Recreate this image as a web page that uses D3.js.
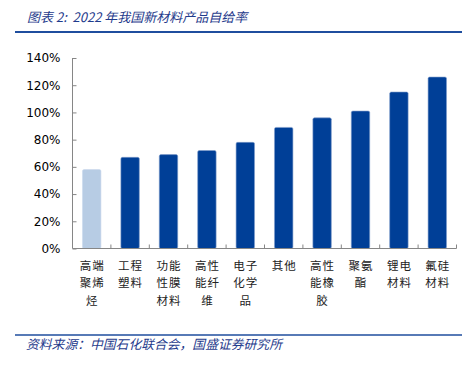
<!DOCTYPE html>
<html><head><meta charset="utf-8">
<script src="https://cdn.jsdelivr.net/npm/d3@7"></script>
<style>
html,body{margin:0;padding:0;background:#fff;}
svg{display:block;}
</style></head>
<body>
<svg id="c" width="471" height="366"></svg>
<script>
const categories = [["高端","聚烯","烃"],["工程","塑料"],["功能","性膜","材料"],["高性","能纤","维"],["电子","化学","品"],["其他"],["高性","能橡","胶"],["聚氨","酯"],["锂电","材料"],["氟硅","材料"]];
const values = [0.58, 0.67, 0.69, 0.72, 0.78, 0.89, 0.96, 1.01, 1.15, 1.26];
const highlight = [true, false, false, false, false, false, false, false, false, false];
const yTicks = [0, 0.2, 0.4, 0.6, 0.8, 1.0, 1.2, 1.4];
const titleText = "图表 2:  2022 年我国新材料产品自给率";
const sourceText = "资料来源：中国石化联合会，国盛证券研究所";

const svg = d3.select("#c");
const x0 = 72.5, x1 = 456.5, yTop = 58, yBot = 248.5;
const x = d3.scaleBand().domain(d3.range(values.length)).range([x0, x1]).paddingInner(0.52).paddingOuter(0.26);
const y = d3.scaleLinear().domain([0, 1.4]).range([yBot, yTop]);

// title
svg.append("text").attr("x", 27).attr("y", 22)
  .attr("font-family", "'Noto Sans CJK SC', sans-serif").attr("font-size", 13)
  .attr("font-style", "italic").attr("fill", "#1F3B8C").style("white-space","pre").text(titleText);
svg.append("line").attr("x1", 15).attr("x2", 462).attr("y1", 32).attr("y2", 32)
  .attr("stroke", "#1F4E9E").attr("stroke-width", 2);

// bars
svg.append("g").selectAll("rect").data(values).join("rect")
  .attr("x", (d,i) => x(i)).attr("width", x.bandwidth())
  .attr("y", d => y(d)).attr("height", d => yBot - y(d))
  .attr("rx", 1.5)
  .attr("fill", (d,i) => highlight[i] ? "#B7CCE4" : "#003F97")
  .attr("stroke", (d,i) => highlight[i] ? "#C9D8EC" : "#7F9CCB").attr("stroke-width", 0.6);

// y axis
const yAxis = d3.axisLeft(y).tickValues(yTicks).tickFormat(d => Math.round(d*100) + "%").tickSize(-4).tickPadding(12);
const gy = svg.append("g").attr("transform", `translate(${x0},0)`).call(yAxis);
gy.select(".domain").attr("stroke", "#868686").attr("d", `M-0,${yTop}V${yBot}`);
gy.selectAll(".tick line").attr("stroke", "#868686");
gy.selectAll(".tick text").attr("font-family", "'DejaVu Sans', sans-serif").attr("font-size", 12).attr("fill", "#000");

// x axis
const step = x.step();
const bounds = d3.range(values.length + 1).map(i => x0 + i * step);
svg.append("line").attr("x1", x0).attr("x2", x1).attr("y1", yBot).attr("y2", yBot).attr("stroke", "#868686");
svg.append("g").selectAll("line").data(bounds.slice(1)).join("line")
  .attr("x1", d => d).attr("x2", d => d).attr("y1", yBot).attr("y2", yBot - 4).attr("stroke", "#868686");

// category labels
const lab = svg.append("g").selectAll("text").data(categories).join("text")
  .attr("font-family", "'Noto Sans CJK SC', sans-serif").attr("font-size", 11.5)
  .attr("fill", "#222").attr("text-anchor", "middle").attr("letter-spacing", 1);
lab.each(function(lines, i) {
  const t = d3.select(this);
  lines.forEach((s, k) => {
    t.append("tspan").attr("x", x(i) + x.bandwidth()/2 + 0.5).attr("y", 270 + k * 17.3).text(s);
  });
});

// source
svg.append("line").attr("x1", 15).attr("x2", 462).attr("y1", 335).attr("y2", 335)
  .attr("stroke", "#1F4E9E").attr("stroke-width", 1.5);
svg.append("text").attr("x", 26).attr("y", 349)
  .attr("font-family", "'Noto Sans CJK SC', sans-serif").attr("font-size", 12.8)
  .attr("font-style", "italic").attr("fill", "#1F3B8C").text(sourceText);
</script>
</body></html>
